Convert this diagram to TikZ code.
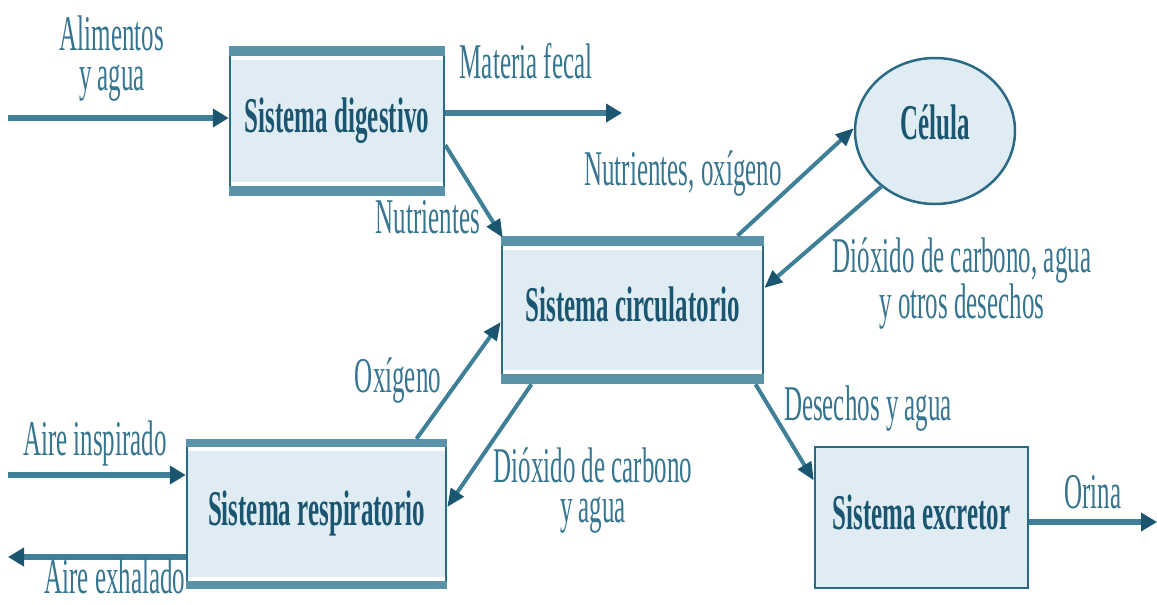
\documentclass[tikz,border=0pt]{standalone}
\usepackage{fontspec}
\usepackage{graphicx}
\setmainfont{Liberation Serif}
\usetikzlibrary{arrows.meta,shapes.geometric}
\definecolor{boxfill}{HTML}{E0ECF4}
\definecolor{boxedge}{HTML}{2A6A84}
\definecolor{bandc}{HTML}{5A93A8}
\definecolor{darkc}{HTML}{1B5670}
\definecolor{linec}{HTML}{3F7F98}
\definecolor{lblc}{HTML}{367590}
\newcommand\cz[1]{\scalebox{0.5}[1]{\begin{tabular}{@{}c@{}}#1\end{tabular}}}
\newcommand\sysbands[2]{%
  \fill[bandc] (#1.north west) rectangle ([yshift=-#2]#1.north east);
  \fill[white] ([xshift=2pt,yshift=-#2]#1.north west) rectangle ([xshift=-2pt,yshift=-#2-4pt]#1.north east);
  \fill[bandc] (#1.south west) rectangle ([yshift=#2]#1.south east);
  \fill[white] ([xshift=2pt,yshift=#2]#1.south west) rectangle ([xshift=-2pt,yshift=#2+4pt]#1.south east);
}
\tikzset{
  sysbox/.style={rectangle, fill=boxfill, draw=boxedge, line width=2.5pt,
    inner sep=0pt, text=darkc, font=\fontsize{50}{42}\selectfont\bfseries},
  lbl/.style={inner sep=0pt, text=lblc, font=\fontsize{50}{40}\selectfont},
  harr/.style={draw=linec, line width=6pt, -{Triangle[length=16pt,width=18pt,color=darkc]}},
  darr/.style={draw=linec, line width=4pt, -{Triangle[length=18pt,width=15pt,color=darkc]}},
}
\begin{document}
\begin{tikzpicture}[x=1pt,y=-1pt]
\useasboundingbox (0,0) rectangle (1157,605);
% boxes
\node[sysbox, minimum width=214pt, minimum height=148pt] (dig) at (337,121) {};
\node[sysbox, minimum width=261pt, minimum height=146pt] (circ) at (632.5,310) {};
\node[sysbox, minimum width=259pt, minimum height=148pt] (resp) at (316.5,514) {};
\node[sysbox, minimum width=213pt, minimum height=141pt] (exc) at (921.5,517.5) {};
\node[ellipse, fill=boxfill, draw=boxedge, line width=2.5pt, minimum width=160pt, minimum height=146pt, inner sep=0pt] (cel) at (935,131) {};
\sysbands{dig}{10pt}
\sysbands{circ}{10pt}
\sysbands{resp}{8pt}
% box texts
\node[sysbox, draw=none, fill=none] (tdig) at (337,121) {\cz{Sistema digestivo}};
\node[sysbox, draw=none, fill=none] (tcirc) at (632.5,310) {\cz{Sistema circulatorio}};
\node[sysbox, draw=none, fill=none] (tresp) at (316.5,514) {\cz{Sistema respiratorio}};
\node[sysbox, draw=none, fill=none] (texc) at (921.5,518) {\cz{Sistema excretor}};
\node[sysbox, draw=none, fill=none] (tcel) at (935,128) {\cz{Célula}};
% free ends
\coordinate (inA) at (8,118);
\coordinate (outF) at (622,113);
\coordinate (outO) at (1157,522);
\coordinate (inAir) at (8,475);
\coordinate (outAir) at (8,557);
% connectors
\draw[harr] (inA) -- (dig.west |- inA);
\draw[harr] (dig.east |- outF) -- (outF);
\draw[darr] ([yshift=-24pt]dig.east) -- ([xshift=2pt,yshift=-2pt]circ.north west);
\draw[darr] ([xshift=105pt]circ.north) -- (cel.178);
\draw[darr] (cel.226) -- ([yshift=22pt]circ.east);
\draw[darr] ([xshift=100pt]resp.north) -- ([yshift=-12pt]circ.west);
\draw[darr] ([xshift=-101pt]circ.south) -- ([yshift=7pt]resp.east);
\draw[darr] ([xshift=123pt]circ.south) -- ([yshift=37pt]exc.west);
\draw[harr] (exc.east |- outO) -- (outO);
\draw[harr] (inAir) -- (resp.west |- inAir);
\draw[harr] (resp.west |- outAir) -- (outAir);
% labels
\node[lbl] (lAl) at (112,59) {\cz{Alimentos\\y agua}};
\node[lbl] (lMf) at (526,67) {\cz{Materia fecal}};
\node[lbl] (lNu) at (428,223) {\cz{Nutrientes}};
\node[lbl] (lNo) at (683,174) {\cz{Nutrientes, oxígeno}};
\node[lbl] (lDc) at (962,284) {\cz{Dióxido de carbono, agua\\y otros desechos}};
\node[lbl] (lOx) at (398,381) {\cz{Oxígeno}};
\node[lbl] (lDa) at (593,491) {\cz{Dióxido de carbono\\y agua}};
\node[lbl] (lDe) at (868,409) {\cz{Desechos y agua}};
\node[lbl] (lOr) at (1093,498) {\cz{Orina}};
\node[lbl] (lAi) at (95,444) {\cz{Aire inspirado}};
\node[lbl] (lAe) at (115,582) {\cz{Aire exhalado}};
\end{tikzpicture}
\end{document}
